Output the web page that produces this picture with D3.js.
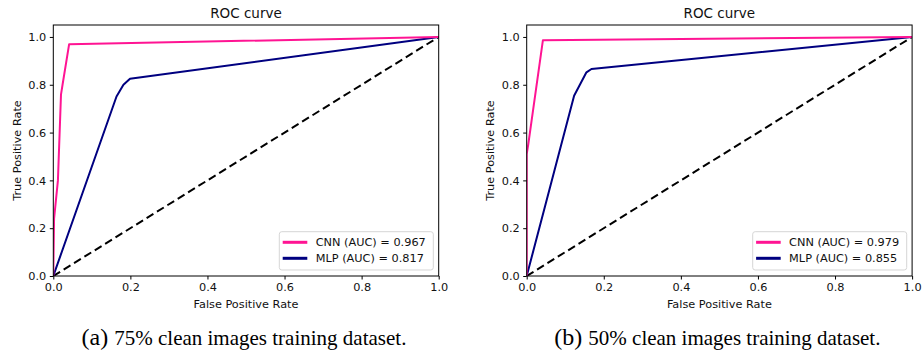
<!DOCTYPE html>
<html>
<head>
<meta charset="utf-8">
<script src="https://cdn.jsdelivr.net/npm/d3@7"></script>
<style>
  body { margin: 0; background: #fff; }
  svg { display: block; }
  .tick text { font-family: "DejaVu Sans", sans-serif; font-size: 11.3px; fill: #111; }
</style>
</head>
<body>
<svg id="chart" width="922" height="354"></svg>
<script>
const TICKS = [0, 0.2, 0.4, 0.6, 0.8, 1.0];
const PANELS = ['a', 'b'];
const CAPTIONS = ['75% clean images training dataset.', '50% clean images training dataset.'];
const CNN_LABELS = ['CNN (AUC) = 0.967', 'CNN (AUC) = 0.979'];
const MLP_LABELS = ['MLP (AUC) = 0.817', 'MLP (AUC) = 0.855'];

// [fpr, tpr] pairs
const CNN_A = [[0, 0], [0.002, 0.24], [0.012, 0.40], [0.02, 0.76], [0.024, 0.80], [0.041, 0.969], [1, 1]];
const MLP_A = [[0, 0], [0.164, 0.751], [0.182, 0.800], [0.199, 0.825], [1, 1]];
const CNN_B = [[0, 0], [0, 0.51], [0.004, 0.55], [0.042, 0.986], [1, 1]];
const MLP_B = [[0, 0], [0.123, 0.754], [0.155, 0.852], [0.168, 0.866], [1, 1]];
const CHANCE = [[0, 0], [1, 1]];

const CNN = [CNN_A, CNN_B];
const MLP = [MLP_A, MLP_B];

const PINK = '#ff1493', NAVY = '#000080';
const svg = d3.select('#chart');
const plotTop = 25, plotBottom = 276;
const lefts = [53.3, 526.7], plotW = 385.4;

PANELS.forEach((p, i) => {
  const x = d3.scaleLinear().domain([0, 1]).range([lefts[i], lefts[i] + plotW]);
  const y = d3.scaleLinear().domain([0, 1.05]).range([plotBottom, plotTop]);
  const g = svg.append('g');

  const clipId = 'clip-' + p;
  g.append('clipPath').attr('id', clipId)
    .append('rect').attr('x', x(0)).attr('y', plotTop).attr('width', plotW).attr('height', plotBottom - plotTop);

  const line = d3.line().x(d => x(d[0])).y(d => y(d[1]));
  const lines = g.append('g').attr('clip-path', `url(#${clipId})`);
  lines.append('path').attr('d', line(CHANCE)).attr('fill', 'none')
    .attr('stroke', '#000').attr('stroke-width', 2).attr('stroke-dasharray', '8,4.2');
  lines.append('path').attr('d', line(MLP[i])).attr('fill', 'none')
    .attr('stroke', NAVY).attr('stroke-width', 2).attr('stroke-linejoin', 'round');
  lines.append('path').attr('d', line(CNN[i])).attr('fill', 'none')
    .attr('stroke', PINK).attr('stroke-width', 2).attr('stroke-linejoin', 'round');

  // frame
  g.append('rect').attr('x', x(0)).attr('y', plotTop).attr('width', plotW).attr('height', plotBottom - plotTop)
    .attr('fill', 'none').attr('stroke', '#000').attr('stroke-width', 1);

  const fmt = d3.format('.1f');
  const xa = g.append('g').attr('transform', `translate(0,${plotBottom})`)
    .call(d3.axisBottom(x).tickValues(TICKS).tickFormat(fmt).tickSize(3.5).tickPadding(3.5));
  const ya = g.append('g').attr('transform', `translate(${x(0)},0)`)
    .call(d3.axisLeft(y).tickValues(TICKS).tickFormat(fmt).tickSize(3.5).tickPadding(3.5));
  [xa, ya].forEach(a => {
    a.select('.domain').remove();
    a.selectAll('line').attr('stroke', '#000');
  });

  const font = '"DejaVu Sans", sans-serif';
  g.append('text').attr('x', x(0.5)).attr('y', 18).attr('text-anchor', 'middle')
    .attr('font-family', font).attr('font-size', 13.5).attr('fill', '#111').text('ROC curve');
  g.append('text').attr('x', x(0.5)).attr('y', 308).attr('text-anchor', 'middle')
    .attr('font-family', font).attr('font-size', 11.3).attr('fill', '#111').text('False Positive Rate');
  g.append('text').attr('transform', `translate(${x(0) - 32.5},${y(0.525)}) rotate(-90)`)
    .attr('text-anchor', 'middle').attr('font-family', font).attr('font-size', 11.3).attr('fill', '#111')
    .text('True Positive Rate');

  // legend
  const lx = x(1) - 159.4, ly = 231.7;
  const leg = g.append('g').attr('transform', `translate(${lx},${ly})`);
  leg.append('rect').attr('width', 154).attr('height', 38.3).attr('rx', 2.5)
    .attr('fill', '#fff').attr('fill-opacity', 0.8).attr('stroke', '#d6d6d6');
  [[CNN_LABELS[i], PINK], [MLP_LABELS[i], NAVY]].forEach(([t, c], k) => {
    const yy = 10.6 + k * 16;
    leg.append('line').attr('x1', 3.4).attr('x2', 28).attr('y1', yy).attr('y2', yy)
      .attr('stroke', c).attr('stroke-width', 3);
    leg.append('text').attr('x', 36.4).attr('y', yy + 4).attr('font-family', font)
      .attr('font-size', 11.3).attr('fill', '#111').text(t);
  });

  // caption
  const cap = g.append('text').attr('x', x(0.5) - 2).attr('y', 345).attr('text-anchor', 'middle')
    .attr('font-family', '"Liberation Serif", "Times New Roman", serif').attr('font-size', 21);
  cap.append('tspan').attr('font-size', 24).text(`(${p}) `);
  cap.append('tspan').text(CAPTIONS[i]);
});
</script>
</body>
</html>
